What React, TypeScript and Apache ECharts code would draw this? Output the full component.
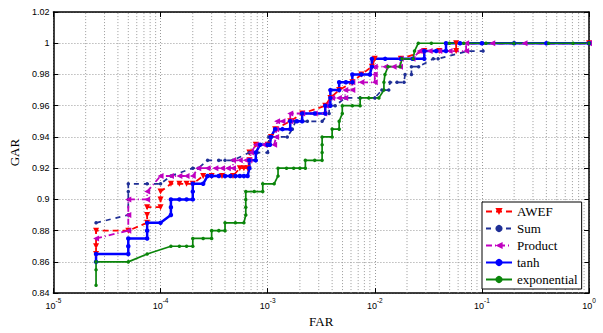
import React, { useEffect, useRef } from "react";
import * as echarts from "echarts";

// FAR = false accepts / impostor trials ; GAR
const IMPOSTOR_TRIALS = 40000;

// [false accepts, GAR]
const awef: [number, number][] = [
  [1, 0.865], [1, 0.87], [1, 0.88], [2, 0.88], [3, 0.885], [3, 0.89], [3, 0.895], [4, 0.895],
  [4, 0.9], [4, 0.905], [5, 0.91], [6, 0.91], [7, 0.91], [8, 0.91], [10, 0.915], [12, 0.915],
  [15, 0.915], [19, 0.915], [22, 0.92], [24, 0.92], [26, 0.92], [27, 0.925], [27, 0.93],
  [31, 0.935], [40, 0.935], [43, 0.94], [47, 0.945], [65, 0.95], [84, 0.955], [138, 0.96],
  [154, 0.965], [186, 0.97], [247, 0.975], [300, 0.98], [376, 0.985], [400, 0.99], [700, 0.99],
  [1160, 0.995], [1600, 0.995], [2300, 0.995], [2300, 1], [40000, 1],
];
const sum: [number, number][] = [
  [1, 0.885], [2, 0.89], [2, 0.9], [2, 0.905], [2, 0.91], [3, 0.91], [4, 0.91], [5, 0.915],
  [8, 0.92], [9, 0.92], [11, 0.925], [14, 0.925], [16, 0.925], [19, 0.925], [27, 0.93],
  [32, 0.93], [40, 0.93], [41, 0.935], [41, 0.94], [49, 0.94], [61, 0.94], [68, 0.945],
  [73, 0.95], [94, 0.95], [129, 0.95], [150, 0.955], [150, 0.96], [171, 0.96], [212, 0.965],
  [292, 0.965], [400, 0.965], [466, 0.97], [540, 0.97], [555, 0.975], [645, 0.975], [750, 0.975],
  [767, 0.98], [880, 0.98], [880, 0.985], [1027, 0.985], [1406, 0.99], [1560, 0.99],
  [2960, 0.995], [4100, 0.995], [4100, 1], [40000, 1],
];
const product: [number, number][] = [
  [1, 0.875], [2, 0.88], [2, 0.89], [2, 0.9], [3, 0.9], [3, 0.905], [4, 0.915], [5, 0.915],
  [6, 0.915], [7, 0.915], [8, 0.915], [9, 0.92], [11, 0.92], [13, 0.92], [15, 0.92], [17, 0.92],
  [19, 0.92], [19, 0.925], [22, 0.925], [25, 0.925], [27, 0.925], [28, 0.93], [31, 0.935],
  [37, 0.935], [46, 0.935], [48, 0.94], [48, 0.945], [49, 0.95], [55, 0.95], [65, 0.95],
  [65, 0.955], [84, 0.955], [110, 0.955], [135, 0.955], [140, 0.96], [160, 0.965], [185, 0.965],
  [212, 0.965], [212, 0.97], [247, 0.97], [247, 0.975], [300, 0.975], [400, 0.975], [400, 0.98],
  [400, 0.985], [500, 0.985], [600, 0.985], [688, 0.985], [700, 0.99], [900, 0.99],
  [1050, 0.995], [1300, 0.995], [1600, 0.995], [2000, 0.995], [2850, 0.995], [2850, 1],
  [5000, 1], [10000, 1], [40000, 1],
];
const tanh: [number, number][] = [
  [1, 0.86], [1, 0.865], [2, 0.865], [2, 0.87], [2, 0.875], [3, 0.875], [3, 0.88], [3, 0.885],
  [4, 0.885], [5, 0.89], [5, 0.895], [5, 0.9], [6, 0.9], [7, 0.9], [8, 0.9], [8, 0.905],
  [8, 0.91], [10, 0.91], [11, 0.915], [12, 0.915], [14, 0.915], [16, 0.915], [18, 0.915],
  [20, 0.915], [22, 0.915], [24, 0.915], [26, 0.915], [27, 0.92], [27, 0.925], [31, 0.925],
  [31, 0.93], [34, 0.935], [40, 0.935], [42, 0.935], [43, 0.94], [47, 0.945], [55, 0.945],
  [65, 0.945], [65, 0.95], [75, 0.95], [84, 0.95], [84, 0.955], [110, 0.955], [138, 0.955],
  [138, 0.96], [154, 0.96], [154, 0.965], [154, 0.97], [186, 0.97], [186, 0.975], [215, 0.975],
  [247, 0.975], [247, 0.98], [300, 0.98], [360, 0.98], [376, 0.985], [376, 0.99], [500, 0.99],
  [700, 0.99], [900, 0.99], [1160, 0.99], [1160, 0.995], [1500, 0.995], [1850, 0.995],
  [1850, 1], [2500, 1], [4000, 1], [8000, 1], [16000, 1], [40000, 1],
];
const exponential: [number, number][] = [
  [1, 0.845], [1, 0.855], [1, 0.86], [2, 0.86], [3, 0.865], [5, 0.87], [6, 0.87], [7, 0.87],
  [8, 0.87], [8, 0.875], [10, 0.875], [12, 0.875], [12, 0.88], [14, 0.88], [16, 0.88],
  [16, 0.885], [20, 0.885], [24, 0.885], [25, 0.89], [25, 0.895], [25, 0.9], [25, 0.905],
  [30, 0.905], [36, 0.905], [36, 0.91], [46, 0.91], [50, 0.915], [50, 0.92], [60, 0.92],
  [70, 0.92], [80, 0.92], [90, 0.92], [90, 0.925], [110, 0.925], [129, 0.925], [129, 0.93],
  [129, 0.935], [129, 0.94], [160, 0.94], [160, 0.945], [186, 0.945], [186, 0.95], [199, 0.955],
  [199, 0.96], [247, 0.96], [292, 0.96], [292, 0.965], [352, 0.965], [437, 0.965], [487, 0.97],
  [487, 0.975], [498, 0.98], [532, 0.985], [688, 0.985], [718, 0.99], [913, 0.99], [940, 0.995],
  [1020, 1], [1350, 1], [1990, 1], [2710, 1], [4370, 1], [7960, 1], [16800, 1], [28400, 1],
  [40000, 1],
];

const seriesNames = ["AWEF", "Sum", "Product", "tanh", "exponential"];
const minorMultipliers = [2, 3, 4, 5, 6, 7, 8, 9];
const decadeExponents = [-5, -4, -3, -2, -1];
const yMin = 0.84;
const yMax = 1.02;

const toPoints = (arr: [number, number][]) => arr.map(([n, g]) => [n / IMPOSTOR_TRIALS, g]);

export default function App() {
  const ref = useRef<HTMLDivElement>(null);
  useEffect(() => {
    if (!ref.current) return;
    const chart = echarts.init(ref.current, undefined, { renderer: "svg" });
    const gridColor = "#9a9a9a";
    const minorGrid: any[] = [];
    decadeExponents.forEach((e) =>
      minorMultipliers.forEach((k) => {
        const v = k * Math.pow(10, e);
        minorGrid.push([v, yMin], [v, yMax], "-");
      })
    );
    const sans = "Liberation Sans";
    const serif = "Liberation Serif";
    const axisBase = {
      axisLine: { show: true, onZero: false, lineStyle: { color: "#000", width: 1.5 } },
      axisTick: { show: true, inside: true, length: 5, lineStyle: { color: "#000", width: 1 } },
    };
    const mk = (
      name: string,
      data: [number, number][],
      color: string,
      lineType: any,
      width: number,
      symbol: string,
      size: number,
      rotate = 0
    ) => ({
      name,
      type: "line",
      data: toPoints(data),
      symbol,
      symbolSize: size,
      symbolRotate: rotate,
      showSymbol: true,
      lineStyle: { color, width, type: lineType },
      itemStyle: { color },
      emphasis: { disabled: true },
    });
    chart.setOption({
      animation: false,
      backgroundColor: "#fff",
      grid: { left: 49, right: 14, top: 12, bottom: 27 },
      xAxis: [
        {
          type: "log",
          logBase: 10,
          min: 1e-5,
          max: 1,
          position: "bottom",
          ...axisBase,
          axisLabel: {
            margin: 4,
            color: "#000",
            formatter: (v: number) => `{b|10}{s|${Math.round(Math.log10(v))}}`,
            rich: {
              b: { fontSize: 9, fontFamily: sans, color: "#000", verticalAlign: "bottom", lineHeight: 13 },
              s: { fontSize: 6.5, fontFamily: sans, color: "#000", verticalAlign: "top", lineHeight: 13 },
            },
          },
          splitLine: { show: true, lineStyle: { color: gridColor, type: [1, 2], width: 1 } },
          name: "FAR",
          nameLocation: "middle",
          nameGap: 13,
          nameTextStyle: { fontFamily: serif, fontSize: 13, color: "#000" },
        },
        {
          type: "log",
          logBase: 10,
          min: 1e-5,
          max: 1,
          position: "top",
          ...axisBase,
          axisLabel: { show: false },
          splitLine: { show: false },
        },
      ],
      yAxis: [
        {
          type: "value",
          min: yMin,
          max: yMax,
          interval: 0.02,
          position: "left",
          ...axisBase,
          axisLabel: {
            margin: 4,
            fontSize: 9,
            fontFamily: sans,
            color: "#000",
            formatter: (v: number) => String(+v.toFixed(2)),
          },
          splitLine: { show: true, lineStyle: { color: gridColor, type: [1, 2], width: 1 } },
          name: "GAR",
          nameLocation: "middle",
          nameGap: 22,
          nameTextStyle: { fontFamily: serif, fontSize: 13, color: "#000" },
        },
        {
          type: "value",
          min: yMin,
          max: yMax,
          interval: 0.02,
          position: "right",
          ...axisBase,
          axisLabel: { show: false },
          splitLine: { show: false },
        },
      ],
      legend: {
        data: seriesNames,
        orient: "vertical",
        left: 482,
        top: 202,
        padding: [3, 4, 3, 3],
        itemWidth: 26,
        itemHeight: 9,
        itemGap: 4,
        backgroundColor: "#fff",
        borderColor: "#000",
        borderWidth: 1,
        textStyle: { fontFamily: serif, fontSize: 13, color: "#000" },
      },
      series: [
        {
          name: "minor-grid",
          type: "line",
          data: minorGrid,
          symbol: "none",
          silent: true,
          connectNulls: false,
          lineStyle: { color: gridColor, type: [1, 2], width: 1 },
          emphasis: { disabled: true },
        },
        mk(seriesNames[0], awef, "#ff0000", [6, 4], 1.8, "triangle", 6, 180),
        mk(seriesNames[1], sum, "#1f2f96", [5, 5], 1.7, "circle", 3.5),
        mk(seriesNames[2], product, "#c000c0", [6, 3, 1, 3], 1.8, "triangle", 6, 90),
        mk(seriesNames[3], tanh, "#0000ff", "solid", 2.5, "circle", 4.5),
        mk(seriesNames[4], exponential, "#0a850a", "solid", 1.7, "circle", 3.5),
      ],
    });
    return () => chart.dispose();
  }, []);
  return (
    <div
      ref={ref}
      style={{ position: "absolute", left: 0, top: 0, width: 603, height: 333, background: "#fff" }}
    />
  );
}
